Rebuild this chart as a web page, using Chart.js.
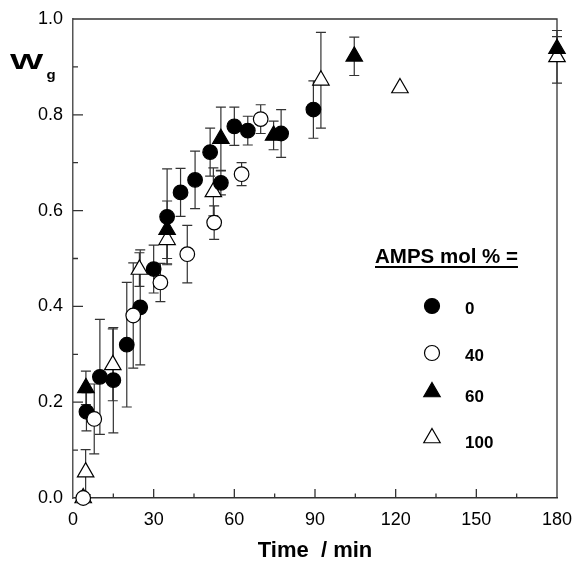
<!DOCTYPE html>
<html>
<head>
<meta charset="utf-8">
<script src="https://cdn.jsdelivr.net/npm/chart.js@4.4.1/dist/chart.umd.min.js"></script>
<style>
  html, body { margin: 0; padding: 0; background: #fff; }
</style>
</head>
<body>
<canvas id="chart" width="573" height="562"></canvas>
<script>
// AMPS mol % = 0  (filled circles)
const time0 = [5, 10, 15, 20, 25, 30, 35, 40, 45.4, 51, 55, 60, 65, 77.4, 89.4];
const wg0 = [0.18, 0.253, 0.246, 0.32, 0.398, 0.478, 0.587, 0.638, 0.664, 0.722, 0.658, 0.776, 0.767, 0.761, 0.811];
const err0 = [0.04, 0.12, 0.11, 0.13, 0.12, 0.05, 0.10, 0.05, 0.06, 0.05, 0.025, 0.04, 0.03, 0.05, 0.06];

// AMPS mol % = 40  (open circles)
const time40 = [3.8, 7.9, 22.4, 32.5, 42.5, 52.5, 62.7, 69.8];
const wg40 = [0.0, 0.165, 0.381, 0.45, 0.509, 0.575, 0.676, 0.791];
const err40 = [0, 0.073, 0.11, 0.04, 0.06, 0.035, 0.024, 0.03];

// AMPS mol % = 60  (filled triangles)
const time60 = [4.8, 35, 55, 74.6, 104.6, 180];
const wg60 = [0.23, 0.56, 0.75, 0.757, 0.922, 0.938];
const err60 = [0.035, 0.06, 0.066, 0.03, 0.04, 0.025];

// AMPS mol % = 100  (open triangles)
const time100 = [3.8, 4.7, 14.8, 24.7, 35, 52.2, 92.2, 121.6, 180];
const wg100 = [0.0, 0.054, 0.278, 0.477, 0.539, 0.639, 0.872, 0.856, 0.921];
const err100 = [0, 0.047, 0.075, 0.035, 0.05, 0.05, 0.1, 0, 0.055];

const xTicks = [0, 30, 60, 90, 120, 150, 180];
const legendLabels = ['0', '40', '60', '100'];

function pts(xs, ys) {
  return xs.map((x, i) => ({ x: x, y: ys[i] }));
}

// draws a marker the same way chart.js shapes them
function drawMarker(c, style, x, y, r, fill) {
  c.save();
  c.fillStyle = fill;
  c.strokeStyle = '#000';
  c.lineWidth = 1.2;
  c.beginPath();
  if (style === 'circle') {
    c.arc(x, y, r, 0, Math.PI * 2);
  } else {
    let rad = 0;
    c.moveTo(x + Math.sin(rad) * r, y - Math.cos(rad) * r);
    rad += Math.PI * 2 / 3;
    c.lineTo(x + Math.sin(rad) * r, y - Math.cos(rad) * r);
    rad += Math.PI * 2 / 3;
    c.lineTo(x + Math.sin(rad) * r, y - Math.cos(rad) * r);
    c.closePath();
  }
  c.fill();
  c.stroke();
  c.restore();
}

const errorBars = {
  id: 'errorBars',
  beforeDatasetsDraw(chart) {
    const c = chart.ctx, xs = chart.scales.x, ys = chart.scales.y;
    const a = chart.chartArea;
    c.save();
    // inward ticks
    c.strokeStyle = '#333';
    c.lineWidth = 1.3;
    c.beginPath();
    for (let v = 15; v < 180; v += 15) {
      const px = xs.getPixelForValue(v);
      const len = v % 30 === 0 ? 9 : 4.5;
      c.moveTo(px, a.bottom);
      c.lineTo(px, a.bottom - len);
    }
    for (let k = 1; k < 10; k++) {
      const py = ys.getPixelForValue(k / 10);
      const len = k % 2 === 0 ? 10 : 5;
      c.moveTo(a.left, py);
      c.lineTo(a.left + len, py);
    }
    c.stroke();
    // top and right frame
    c.beginPath();
    c.moveTo(a.left, a.top);
    c.lineTo(a.right, a.top);
    c.lineTo(a.right, a.bottom);
    c.stroke();

    // error bars
    c.strokeStyle = '#333';
    c.lineWidth = 1.2;
    chart.data.datasets.forEach((ds) => {
      if (!ds.errors) return;
      ds.data.forEach((p, i) => {
        const e = ds.errors[i];
        if (!e) return;
        const px = xs.getPixelForValue(p.x);
        const top = ys.getPixelForValue(p.y + e);
        const bot = ys.getPixelForValue(p.y - e);
        c.beginPath();
        c.moveTo(px, top); c.lineTo(px, bot);
        c.moveTo(px - 5, top); c.lineTo(px + 5, top);
        c.moveTo(px - 5, bot); c.lineTo(px + 5, bot);
        c.stroke();
      });
    });
    c.restore();
  },
  afterDraw(chart) {
    const c = chart.ctx;
    c.save();
    c.fillStyle = '#000';
    c.textBaseline = 'alphabetic';
    // y axis title W_g
    c.save();
    c.font = 'bold 22px "Liberation Sans", Arial, sans-serif';
    c.translate(10, 69);
    c.scale(1.6, 1);
    c.fillText('W', 0, 0);
    c.restore();
    c.save();
    c.font = 'bold 13px "Liberation Sans", Arial, sans-serif';
    c.translate(46.5, 79);
    c.scale(1.15, 1);
    c.fillText('g', 0, 0);
    c.restore();

    // legend
    c.font = 'bold 20.5px "Liberation Sans", Arial, sans-serif';
    const title = 'AMPS mol % =';
    c.fillText(title, 375, 263);
    const tw = c.measureText(title).width;
    c.fillRect(375, 266, tw, 2);
    const rowY = [307, 354, 395, 441];
    c.font = 'bold 17px "Liberation Sans", Arial, sans-serif';
    c.textBaseline = 'middle';
    chart.data.datasets.forEach((ds, i) => {
      const r = ds.pointStyle === 'circle' ? 7.5 : 9.5;
      const my = ds.pointStyle === 'circle' ? rowY[i] - 1 : rowY[i] - 3;
      drawMarker(c, ds.pointStyle, 432, my, r, ds.pointBackgroundColor);
      c.fillStyle = '#000';
      c.fillText(legendLabels[i], 465, rowY[i] + 2);
    });
    c.restore();
  }
};

const tickFont = { family: '"Liberation Sans", Arial, sans-serif', size: 18 };

new Chart(document.getElementById('chart'), {
  type: 'scatter',
  data: {
    datasets: [
      {
        label: '0',
        data: pts(time0, wg0),
        errors: err0,
        pointStyle: 'circle',
        pointRadius: 7.3,
        pointBackgroundColor: '#000',
        pointBorderColor: '#000',
        pointBorderWidth: 1.2,
        order: 1,
        clip: false,
      },
      {
        label: '40',
        data: pts(time40, wg40),
        errors: err40,
        pointStyle: 'circle',
        pointRadius: 7.3,
        pointBackgroundColor: '#fff',
        pointBorderColor: '#000',
        pointBorderWidth: 1.2,
        order: 0,
        clip: false,
      },
      {
        label: '60',
        data: pts(time60, wg60),
        errors: err60,
        pointStyle: 'triangle',
        pointRadius: 9.5,
        pointBackgroundColor: '#000',
        pointBorderColor: '#000',
        pointBorderWidth: 1.2,
        order: 2,
        clip: false,
      },
      {
        label: '100',
        data: pts(time100, wg100),
        errors: err100,
        pointStyle: 'triangle',
        pointRadius: 9.5,
        pointBackgroundColor: '#fff',
        pointBorderColor: '#000',
        pointBorderWidth: 1.2,
        order: 3,
        clip: false,
      },
    ],
  },
  options: {
    responsive: false,
    animation: false,
    devicePixelRatio: 1,
    layout: { padding: { top: 19, right: 16, left: 0, bottom: 0 } },
    plugins: {
      legend: { display: false },
      tooltip: { enabled: false },
    },
    scales: {
      x: {
        type: 'linear',
        min: 0,
        max: 180,
        afterBuildTicks: (s) => { s.ticks = xTicks.map((v) => ({ value: v })); },
        afterFit: (s) => { s.height = 64; s.paddingLeft = 0; s.paddingRight = 0; },
        ticks: { font: tickFont, color: '#000', padding: 11, maxRotation: 0 },
        grid: { display: false, drawTicks: false, tickLength: 0 },
        border: { color: '#333', width: 1.5 },
        title: {
          display: true,
          text: 'Time  / min',
          color: '#000',
          font: { family: '"Liberation Sans", Arial, sans-serif', size: 22, weight: 'bold' },
          padding: { top: 0, bottom: -2 },
        },
      },
      y: {
        min: 0,
        max: 1,
        ticks: {
          stepSize: 0.2,
          font: tickFont,
          color: '#000',
          padding: 10,
          callback: (v) => v.toFixed(1),
        },
        afterFit: (s) => { s.width = 73; s.paddingTop = 0; s.paddingBottom = 0; },
        grid: { display: false, drawTicks: false, tickLength: 0 },
        border: { color: '#555', width: 1.5 },
      },
    },
  },
  plugins: [errorBars],
});
</script>
</body>
</html>
